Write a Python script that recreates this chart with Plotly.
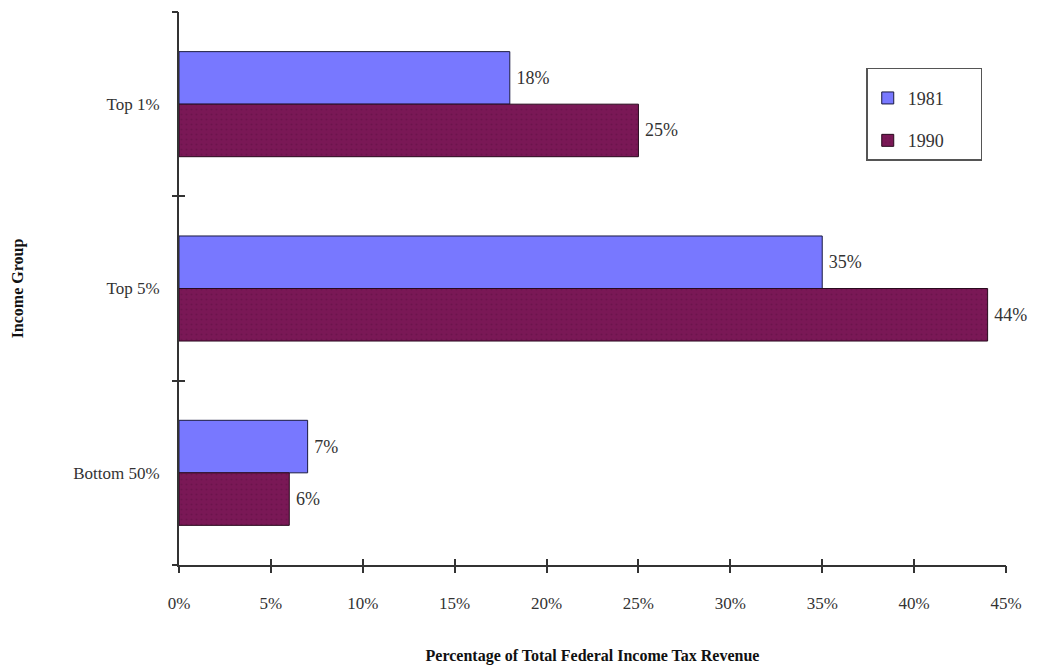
import plotly.graph_objects as go

groups = ["Top 1%", "Top 5%", "Bottom 50%"]
share_1981 = [18, 35, 7]
share_1990 = [25, 44, 6]
x_ticks = [0, 5, 10, 15, 20, 25, 30, 35, 40, 45]
x_tick_labels = [f"{v}%" for v in x_ticks]
group_edges = [-0.5, 0.5, 1.5, 2.5]

serif = "Liberation Serif, Times New Roman, serif"
ink = "#333333"
pad = "\u00a0" * 7  # widens the legend box to the right of the labels

fig = go.Figure()
fig.add_trace(go.Bar(
    name="1981" + pad, y=groups, x=share_1981, orientation="h",
    marker=dict(color="#7878FF", line=dict(color="#1a1a40", width=1)),
    text=share_1981, texttemplate="\u2009%{text}%", textposition="outside",
    textfont=dict(family=serif, size=18, color=ink),
    cliponaxis=False, legendgroup="a",
))
fig.add_trace(go.Bar(
    name="1990" + pad, y=groups, x=share_1990, orientation="h",
    marker=dict(color="#7A1856", line=dict(color="#2a0a1e", width=1),
                pattern=dict(shape=".", fgcolor="#5e1042", size=5, solidity=0.15)),
    text=share_1990, texttemplate="\u2009%{text}%", textposition="outside",
    textfont=dict(family=serif, size=18, color=ink),
    cliponaxis=False, legendgroup="b",
))

# invisible carriers for the overlay axes that draw the crossing tick marks
for xa, ya in (("x2", "y2"), ("x3", "y3")):
    fig.add_trace(go.Scatter(x=[0], y=[0], xaxis=xa, yaxis=ya, mode="markers",
                             marker=dict(opacity=0), showlegend=False, hoverinfo="skip"))

tick_common = dict(showticklabels=False, showgrid=False, zeroline=False,
                   showline=False, ticklen=6, tickwidth=1.5, tickcolor=ink,
                   automargin=False)

fig.update_layout(
    width=1037, height=666,
    margin=dict(l=179, r=31, t=12, b=101),
    paper_bgcolor="white", plot_bgcolor="white",
    barmode="group", bargap=0.43, bargroupgap=0,
    font=dict(family=serif, size=17, color=ink),
    xaxis=dict(
        range=[0, 45], tickvals=x_ticks, ticktext=x_tick_labels,
        showgrid=False, zeroline=False, showline=True, linecolor=ink, linewidth=2,
        ticks="outside", ticklen=6, tickwidth=1.5, tickcolor=ink, ticklabelstandoff=16,
        tickfont=dict(family=serif, size=17, color=ink), automargin=False,
        title=dict(text="<b>Percentage of Total Federal Income Tax Revenue</b>",
                   font=dict(family=serif, size=16, color="#111111"), standoff=37),
    ),
    yaxis=dict(
        type="category", categoryorder="array", categoryarray=groups,
        autorange="reversed", ticks="", automargin=False,
        showgrid=False, zeroline=False, showline=True, linecolor=ink, linewidth=2,
        ticklabelstandoff=14, tickfont=dict(family=serif, size=17, color=ink),
        title=dict(text="<b>Income Group</b>",
                   font=dict(family=serif, size=16, color="#111111"), standoff=46),
    ),
    xaxis2=dict(overlaying="x", anchor="y2", range=[0, 45], tickvals=x_ticks,
                ticks="inside", side="bottom", **tick_common),
    yaxis2=dict(overlaying="y", anchor="x2", range=[2.5, -0.5], tickvals=group_edges,
                ticks="inside", side="left", **tick_common),
    xaxis3=dict(overlaying="x", anchor="y3", range=[0, 45], tickvals=x_ticks,
                ticks="outside", side="bottom", **tick_common),
    yaxis3=dict(overlaying="y", anchor="x3", range=[2.5, -0.5], tickvals=group_edges,
                ticks="outside", side="left", **tick_common),
    legend=dict(
        x=0.831, y=0.899, xanchor="left", yanchor="top",
        bordercolor="#555555", borderwidth=1.5, bgcolor="white",
        font=dict(family=serif, size=18, color=ink),
        title=dict(text=" ", font=dict(size=8)),
        traceorder="grouped", tracegroupgap=16, itemwidth=30,
    ),
)

fig.write_html("out.html")
